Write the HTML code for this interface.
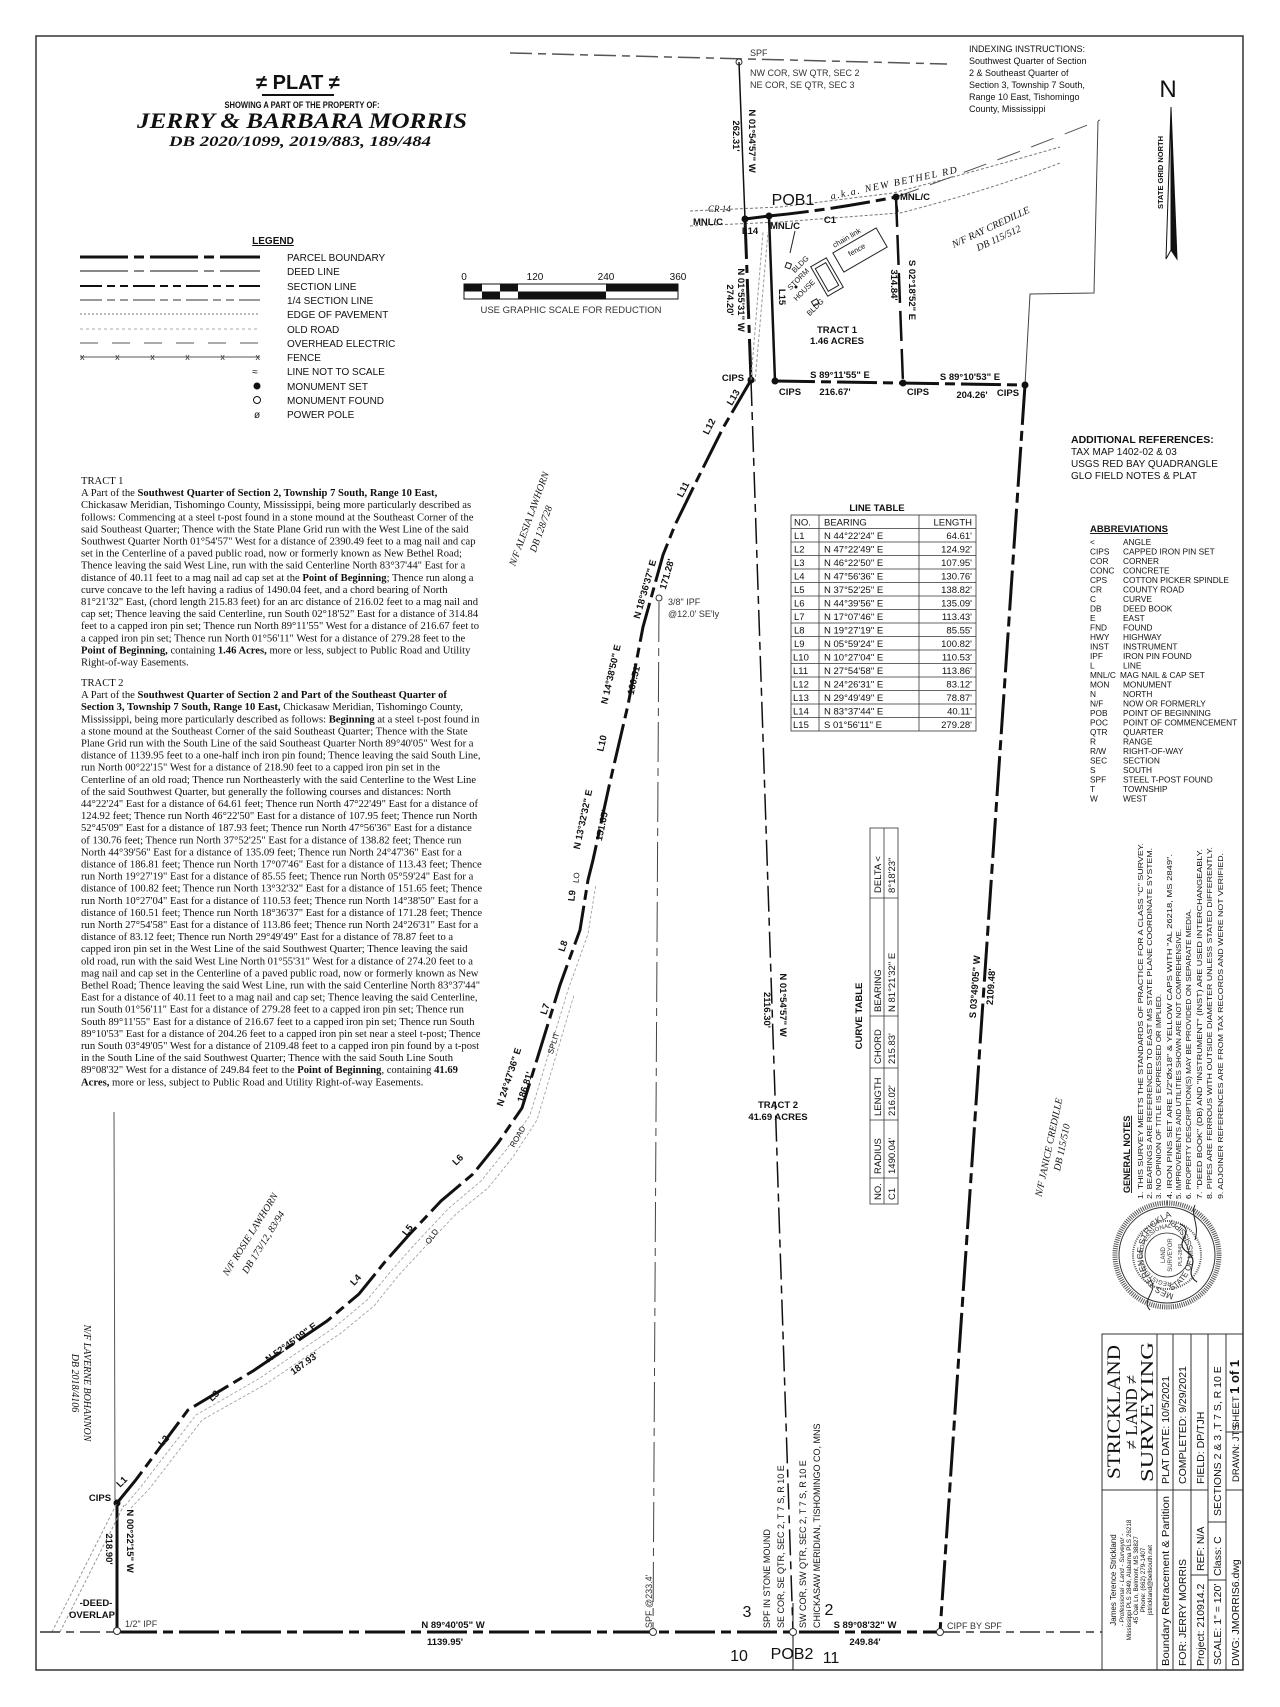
<!DOCTYPE html>
<html><head><meta charset="utf-8"><style>
html,body{margin:0;padding:0;background:#fff;width:1280px;height:1707px;overflow:hidden;}
svg{display:block;}
text{font-family:"Liberation Sans",sans-serif;fill:#111;}
.s text{font-family:"Liberation Serif",serif;font-size:10.6px;}
.b{font-weight:bold;}
.cad{font-size:9.5px;}
text.it{font-family:"Liberation Serif",serif;font-style:italic;}
text.serif{font-family:"Liberation Serif",serif;}
</style></head><body>
<svg width="1280" height="1707" viewBox="0 0 1280 1707" xmlns="http://www.w3.org/2000/svg">
<rect x="0" y="0" width="1280" height="1707" fill="#fff"/>
<rect x="36" y="36" width="1207" height="1634" fill="none" stroke="#333" stroke-width="1.5"/>

<!-- Title -->
<text x="298" y="89" text-anchor="middle" font-size="20" font-weight="bold">≠ PLAT ≠</text>
<line x1="262" y1="95" x2="334" y2="95" stroke="#111" stroke-width="2"/>
<text x="302" y="108" text-anchor="middle" font-size="9" font-weight="bold" textLength="155" lengthAdjust="spacingAndGlyphs">SHOWING A PART OF THE PROPERTY OF:</text>
<text x="302" y="128" text-anchor="middle" class="it b" font-size="22" textLength="330" lengthAdjust="spacingAndGlyphs">JERRY &amp; BARBARA MORRIS</text>
<text x="300" y="146" text-anchor="middle" class="it b" font-size="15" textLength="262" lengthAdjust="spacingAndGlyphs">DB 2020/1099, 2019/883, 189/484</text>

<!-- Legend -->
<text x="273" y="244" text-anchor="middle" font-size="10" font-weight="bold" text-decoration="underline">LEGEND</text>
<g stroke="#111" fill="none">
<line x1="80" y1="257" x2="260" y2="257" stroke-width="3" stroke-dasharray="48 6 10 6"/>
<line x1="80" y1="271" x2="260" y2="271" stroke="#888" stroke-width="2" stroke-dasharray="48 6 10 6"/>
<line x1="80" y1="286" x2="260" y2="286" stroke-width="2" stroke-dasharray="22 5 8 5 8 5"/>
<line x1="80" y1="300" x2="260" y2="300" stroke="#999" stroke-width="2" stroke-dasharray="22 5 8 5 8 5"/>
<line x1="80" y1="314" x2="260" y2="314" stroke="#777" stroke-width="1" stroke-dasharray="2 2"/>
<line x1="80" y1="329" x2="260" y2="329" stroke="#aaa" stroke-width="1" stroke-dasharray="3 3"/>
<line x1="80" y1="343" x2="260" y2="343" stroke="#555" stroke-width="1" stroke-dasharray="18 14"/>
<line x1="80" y1="357" x2="260" y2="357" stroke="#555" stroke-width="1"/>
</g>
<text x="170" y="360" text-anchor="middle" font-size="9" textLength="180" lengthAdjust="spacing" style="fill:#333">x x x x x x</text>
<text x="255" y="375" text-anchor="middle" font-size="10">≈</text>
<circle cx="257" cy="386" r="3.5" fill="#111"/>
<circle cx="257" cy="400" r="3.5" fill="none" stroke="#111"/>
<text x="257" y="418" text-anchor="middle" font-size="10">ø</text>
<g font-size="10" style="fill:#222">
<text x="287" y="261">PARCEL BOUNDARY</text><text x="287" y="275">DEED LINE</text><text x="287" y="290">SECTION LINE</text><text x="287" y="304">1/4 SECTION LINE</text><text x="287" y="318">EDGE OF PAVEMENT</text><text x="287" y="333">OLD ROAD</text><text x="287" y="347">OVERHEAD ELECTRIC</text><text x="287" y="361">FENCE</text><text x="287" y="375">LINE NOT TO SCALE</text><text x="287" y="390">MONUMENT SET</text><text x="287" y="404">MONUMENT FOUND</text><text x="287" y="418">POWER POLE</text>
</g>

<!-- Scale bar -->
<g font-size="10" text-anchor="middle"><text x="464" y="280">0</text><text x="535" y="280">120</text><text x="606" y="280">240</text><text x="678" y="280">360</text></g>
<rect x="464" y="284" width="214" height="15" fill="#fff" stroke="#111"/>
<g fill="#111">
<rect x="464" y="284" width="18" height="7.5"/><rect x="500" y="284" width="18" height="7.5"/>
<rect x="482" y="291.5" width="18" height="7.5"/><rect x="518" y="291.5" width="17" height="7.5"/>
<rect x="535" y="291.5" width="71" height="7.5"/><rect x="606" y="284" width="72" height="7.5"/>
</g>
<text x="571" y="313" text-anchor="middle" font-size="9.5" style="fill:#333">USE GRAPHIC SCALE FOR REDUCTION</text>

<!-- Indexing -->
<g font-size="9" style="fill:#222"><text x="969" y="52">INDEXING INSTRUCTIONS:</text><text x="969" y="64">Southwest Quarter of Section</text><text x="969" y="76">2 &amp; Southeast Quarter of</text><text x="969" y="88">Section 3, Township 7 South,</text><text x="969" y="100">Range 10 East, Tishomingo</text><text x="969" y="112">County, Mississippi</text></g>

<!-- North arrow -->
<text x="1168" y="97" text-anchor="middle" font-size="24">N</text>
<polygon points="1171,107 1166,259 1171,250" fill="#fff" stroke="#111"/>
<polygon points="1171,107 1177,259 1171,250" fill="#111" stroke="#111"/>
<text transform="translate(1163,209) rotate(-90)" font-size="7.5" font-weight="bold">STATE GRID NORTH</text>

<!-- Top section line -->
<line x1="510" y1="53" x2="947" y2="64" stroke="#555" stroke-width="1.5" stroke-dasharray="22 6 8 6"/>
<circle cx="739" cy="62" r="3" fill="#fff" stroke="#333"/>
<text x="750" y="56" font-size="9" style="fill:#333">SPF</text>
<text x="750" y="76" font-size="9" style="fill:#333">NW COR, SW QTR, SEC 2</text>
<text x="750" y="88" font-size="9" style="fill:#333">NE COR, SE QTR, SEC 3</text>

<!-- West section line -->
<line x1="739" y1="62" x2="745" y2="219" stroke="#111" stroke-width="1.5"/>
<text transform="translate(749,141) rotate(90)" text-anchor="middle" class="cad b">N 01°54'57" W</text>
<text transform="translate(733,136) rotate(90)" text-anchor="middle" class="cad b">262.31'</text>

<!-- Road -->
<g fill="none" stroke="#777" stroke-width="1" stroke-dasharray="3 2">
<path d="M690,211 L780,207 L893,193 Q980,170 1060,147"/>
<path d="M690,226 L780,222 L900,213 Q990,190 1060,163"/>
</g>
<path d="M896,197 Q1000,160 1100,120" fill="none" stroke="#555" stroke-width="1" stroke-dasharray="24 12"/>

<!-- Tract 1 -->
<g stroke="#111" fill="none">
<line x1="745" y1="219" x2="751" y2="380" stroke-width="3" stroke-dasharray="40 6 8 6"/>
<line x1="745" y1="219" x2="769" y2="216" stroke-width="3"/>
<path d="M769,216 Q830,210 896,197" stroke-width="3" stroke-dasharray="40 6 10 6"/>
<line x1="769" y1="216" x2="775" y2="381" stroke-width="2.5"/>
<line x1="896" y1="197" x2="903" y2="383" stroke-width="2.5" stroke-dasharray="30 8"/>
<line x1="775" y1="381" x2="1025" y2="385" stroke-width="3" stroke-dasharray="40 6 10 6"/>
<polyline points="1098,121 1094,293 1030,294 1025,385" stroke-width="1" stroke="#444"/>
<line x1="896" y1="197" x2="898" y2="212" stroke-width="1"/>
</g>
<g fill="#111"><circle cx="745" cy="219" r="3.5"/><circle cx="769" cy="216" r="3.5"/><circle cx="896" cy="197" r="3.5"/><circle cx="751" cy="380" r="3.5"/><circle cx="775" cy="381" r="3.5"/><circle cx="903" cy="383" r="3.5"/><circle cx="1025" cy="385" r="3.5"/></g>
<g fill="none" stroke="#999" stroke-dasharray="3 2"><path d="M751,380 L763,232"/><path d="M755,382 L768,232"/></g>
<!-- buildings -->
<g fill="none" stroke="#222" stroke-width="1">
<rect x="-25" y="-11" width="50" height="22" transform="translate(860,250) rotate(-30)"/>
<rect x="-17" y="-9" width="34" height="18" transform="translate(827,277) rotate(60)"/>
<rect x="-13" y="-6" width="26" height="12" transform="translate(827,277) rotate(60)"/>
<rect x="786" y="263" width="5" height="5" transform="rotate(20 788 265)"/>
<rect x="812" y="300" width="6" height="5" transform="rotate(-30 815 302)"/>
<line x1="790" y1="253" x2="795" y2="231"/>
</g>
<circle cx="796" cy="287" r="1.5" fill="#111"/>
<g font-size="7.5" style="fill:#222">
<text transform="translate(802,266) rotate(-45)" text-anchor="middle">BLDG</text>
<text transform="translate(800,281) rotate(-45)" text-anchor="middle">STORM</text>
<text transform="translate(806,292) rotate(-45)" text-anchor="middle">HOUSE</text>
<text transform="translate(817,309) rotate(-45)" text-anchor="middle">BLDG</text>
<text transform="translate(848,240) rotate(-30)" text-anchor="middle">chain link</text>
<text transform="translate(858,252) rotate(-30)" text-anchor="middle">fence</text>
</g>
<text x="793" y="205" text-anchor="middle" font-size="16">POB1</text>
<text transform="translate(895,186) rotate(-12)" text-anchor="middle" class="it" font-size="10" letter-spacing="1.5">a.k.a. NEW BETHEL RD</text>
<text x="708" y="212" class="it" font-size="9">CR 14</text>
<text x="708" y="225" text-anchor="middle" class="cad b">MNL/C</text>
<text x="750" y="234" text-anchor="middle" class="cad b">L14</text>
<text x="785" y="229" text-anchor="middle" class="cad b">MNL/C</text>
<text x="830" y="223" text-anchor="middle" class="cad b">C1</text>
<text x="915" y="200" text-anchor="middle" class="cad b">MNL/C</text>
<text transform="translate(992,230) rotate(-25)" text-anchor="middle" class="it" font-size="10">N/F RAY CREDILLE</text>
<text transform="translate(1000,241) rotate(-25)" text-anchor="middle" class="it" font-size="10">DB 115/512</text>
<text transform="translate(738,300) rotate(90)" text-anchor="middle" class="cad b">N 01°55'31" W</text>
<text transform="translate(727,300) rotate(90)" text-anchor="middle" class="cad b">274.20'</text>
<text transform="translate(909,290) rotate(90)" text-anchor="middle" class="cad b">S 02°18'52" E</text>
<text transform="translate(891,285) rotate(90)" text-anchor="middle" class="cad b">314.84'</text>
<text transform="translate(779,297) rotate(90)" text-anchor="middle" class="cad b">L15</text>
<text x="837" y="333" text-anchor="middle" class="cad b">TRACT 1</text>
<text x="837" y="344" text-anchor="middle" class="cad b">1.46 ACRES</text>
<text x="840" y="378" text-anchor="middle" class="cad b">S 89°11'55" E</text>
<text x="835" y="395" text-anchor="middle" class="cad b">216.67'</text>
<text x="733" y="381" text-anchor="middle" class="cad b">CIPS</text>
<text x="790" y="395" text-anchor="middle" class="cad b">CIPS</text>
<text x="918" y="395" text-anchor="middle" class="cad b">CIPS</text>
<text x="1008" y="396" text-anchor="middle" class="cad b">CIPS</text>
<text x="970" y="380" text-anchor="middle" class="cad b">S 89°10'53" E</text>
<text x="972" y="398" text-anchor="middle" class="cad b">204.26'</text>

<!-- Tract 2 middle line -->
<line x1="751" y1="380" x2="793" y2="1632" stroke="#111" stroke-width="1.5" stroke-dasharray="26 6 8 6"/>
<line x1="793" y1="1603" x2="793" y2="1670" stroke="#111" stroke-width="1"/>
<text transform="translate(780,1005) rotate(90)" text-anchor="middle" class="cad b">N 01°54'57" W</text>
<text transform="translate(764,1010) rotate(90)" text-anchor="middle" class="cad b">2116.30'</text>
<text x="778" y="1108" text-anchor="middle" class="cad b">TRACT 2</text>
<text x="778" y="1120" text-anchor="middle" class="cad b">41.69 ACRES</text>

<!-- 3/8 IPF and SPF line -->
<line x1="659" y1="602" x2="653" y2="1632" stroke="#444" stroke-width="1" stroke-dasharray="40 6 8 6"/>
<circle cx="659" cy="598" r="3" fill="#fff" stroke="#333"/>
<text x="668" y="605" font-size="9" style="fill:#333">3/8" IPF</text>
<text x="668" y="617" font-size="9" style="fill:#333">@12.0' SE'ly</text>

<!-- East boundary -->
<line x1="1025" y1="385" x2="940" y2="1632" stroke="#111" stroke-width="3" stroke-dasharray="40 6 10 6"/>
<text transform="translate(978,987) rotate(-86)" text-anchor="middle" class="cad b">S 03°49'05" W</text>
<text transform="translate(994,987) rotate(-86)" text-anchor="middle" class="cad b">2109.48'</text>
<text transform="translate(1052,1148) rotate(-78)" text-anchor="middle" class="it" font-size="10">N/F JANICE CREDILLE</text>
<text transform="translate(1065,1148) rotate(-78)" text-anchor="middle" class="it" font-size="10">DB 115/510</text>

<!-- Old road boundary -->
<polyline fill="none" stroke="#111" stroke-width="3" stroke-dasharray="40 6 10 6" points="117,1503 135,1481 188,1410 253,1371 327,1321 359,1294 384,1263 408,1236 441,1201 473,1174 498,1143 522,1108 560,985 580,930 588,880 593,860 610,782 628,705 643,627 663,555 675,525 695,484 723,428 751,380"/>
<polyline fill="none" stroke="#999" stroke-width="0.8" stroke-dasharray="3 2" points="125,1506 143,1484 196,1415 260,1378 335,1327 367,1300 392,1270 416,1243 449,1208 481,1181 506,1150 530,1115 568,990 588,934 596,884"/>
<polyline fill="none" stroke="#999" stroke-width="0.8" stroke-dasharray="3 2" points="131,1508 150,1488 202,1420 266,1384 341,1333 374,1306 398,1276 423,1249 456,1214 488,1188 513,1157 537,1120 574,995"/>
<g class="cad b">
<text transform="translate(736,399) rotate(-60)" text-anchor="middle">L13</text>
<text transform="translate(712,428) rotate(-63)" text-anchor="middle">L12</text>
<text transform="translate(686,491) rotate(-63)" text-anchor="middle">L11</text>
<text transform="translate(648,590) rotate(-74)" text-anchor="middle">N 18°36'37" E</text>
<text transform="translate(670,575) rotate(-74)" text-anchor="middle">171.28'</text>
<text transform="translate(614,675) rotate(-77)" text-anchor="middle">N 14°38'50" E</text>
<text transform="translate(637,680) rotate(-77)" text-anchor="middle">160.51'</text>
<text transform="translate(605,744) rotate(-77)" text-anchor="middle">L10</text>
<text transform="translate(586,820) rotate(-78)" text-anchor="middle">N 13°32'32" E</text>
<text transform="translate(605,826) rotate(-78)" text-anchor="middle">151.65'</text>
<text transform="translate(575,896) rotate(-84)" text-anchor="middle">L9</text>
<text transform="translate(566,947) rotate(-72)" text-anchor="middle">L8</text>
<text transform="translate(548,1010) rotate(-72)" text-anchor="middle">L7</text>
<text transform="translate(512,1078) rotate(-72)" text-anchor="middle">N 24°47'36" E</text>
<text transform="translate(528,1088) rotate(-72)" text-anchor="middle">186.81'</text>
<text transform="translate(460,1162) rotate(-45)" text-anchor="middle">L6</text>
<text transform="translate(410,1232) rotate(-52)" text-anchor="middle">L5</text>
<text transform="translate(358,1282) rotate(-48)" text-anchor="middle">L4</text>
<text transform="translate(293,1345) rotate(-36)" text-anchor="middle">N 52°45'09" E</text>
<text transform="translate(306,1366) rotate(-36)" text-anchor="middle">187.93'</text>
<text transform="translate(216,1398) rotate(-45)" text-anchor="middle">L3</text>
<text transform="translate(166,1443) rotate(-48)" text-anchor="middle">L2</text>
<text transform="translate(124,1484) rotate(-45)" text-anchor="middle">L1</text>
</g>
<g font-size="8" style="fill:#777">
<text transform="translate(556,1044) rotate(-72)" text-anchor="middle">SPLIT</text>
<text transform="translate(520,1138) rotate(-60)" text-anchor="middle">ROAD</text>
<text transform="translate(434,1238) rotate(-55)" text-anchor="middle">OLD</text>
<text transform="translate(579,878) rotate(-84)" text-anchor="middle">LO</text>
</g>
<text transform="translate(532,520) rotate(-70)" text-anchor="middle" class="it" font-size="10">N/F ALESIA LAWHORN</text>
<text transform="translate(544,530) rotate(-70)" text-anchor="middle" class="it" font-size="10">DB 128/728</text>
<text transform="translate(253,1236) rotate(-58)" text-anchor="middle" class="it" font-size="10">N/F ROSIE LAWHORN</text>
<text transform="translate(266,1244) rotate(-58)" text-anchor="middle" class="it" font-size="10">DB 173/12, 83/94</text>

<!-- lower left -->
<line x1="114" y1="1112" x2="115" y2="1500" stroke="#555" stroke-width="1"/>
<text transform="translate(84,1383) rotate(90)" text-anchor="middle" class="it" font-size="10">N/F LAVERNE BOHANNON</text>
<text transform="translate(72,1383) rotate(90)" text-anchor="middle" class="it" font-size="10">DB 2018/4106</text>
<line x1="117" y1="1503" x2="117" y2="1631" stroke="#111" stroke-width="3"/>
<circle cx="117" cy="1503" r="3.5" fill="#111"/>
<text x="100" y="1501" text-anchor="middle" class="cad b">CIPS</text>
<text transform="translate(127,1541) rotate(90)" text-anchor="middle" class="cad b">N 00°22'15" W</text>
<text transform="translate(106,1549) rotate(90)" text-anchor="middle" class="cad b">218.90'</text>
<g fill="none" stroke="#999" stroke-dasharray="3 2"><path d="M52,1632 L117,1503"/><path d="M60,1632 L124,1505"/></g>
<text x="96" y="1606" text-anchor="middle" class="cad b">-DEED-</text>
<text x="92" y="1618" text-anchor="middle" class="cad b">OVERLAP</text>

<!-- bottom section line -->
<line x1="40" y1="1632" x2="117" y2="1632" stroke="#333" stroke-width="1.5" stroke-dasharray="20 6 8 6"/>
<line x1="117" y1="1632" x2="940" y2="1632" stroke="#111" stroke-width="3" stroke-dasharray="40 6 10 6"/>
<line x1="940" y1="1632" x2="1102" y2="1632" stroke="#333" stroke-width="1.5" stroke-dasharray="20 6 8 6"/>
<circle cx="117" cy="1631" r="3.5" fill="#fff" stroke="#333"/>
<circle cx="653" cy="1632" r="3.5" fill="#fff" stroke="#333"/>
<circle cx="793" cy="1632" r="3.5" fill="#fff" stroke="#333"/>
<circle cx="940" cy="1632" r="3.5" fill="#fff" stroke="#333"/>
<text x="125" y="1627" font-size="9" style="fill:#333">1/2" IPF</text>
<text x="453" y="1628" text-anchor="middle" class="cad b">N 89°40'05" W</text>
<text x="445" y="1645" text-anchor="middle" class="cad b">1139.95'</text>
<text transform="translate(652,1628) rotate(-90)" font-size="9" style="fill:#333">SPF @233.4'</text>
<text x="865" y="1628" text-anchor="middle" class="cad b">S 89°08'32" W</text>
<text x="865" y="1645" text-anchor="middle" class="cad b">249.84'</text>
<text x="947" y="1629" font-size="9" style="fill:#333">CIPF BY SPF</text>
<g font-size="16" style="fill:#666"><text x="747" y="1617" text-anchor="middle">3</text><text x="829" y="1615" text-anchor="middle">2</text><text x="739" y="1661" text-anchor="middle">10</text><text x="831" y="1663" text-anchor="middle">11</text></g>
<text x="792" y="1659" text-anchor="middle" font-size="16">POB2</text>
<g font-size="9" style="fill:#333">
<text transform="translate(770,1628) rotate(-90)">SPF IN STONE MOUND</text>
<text transform="translate(784,1628) rotate(-90)">SE COR, SE QTR, SEC 2, T 7 S, R 10 E</text>
<text transform="translate(806,1628) rotate(-90)">SW COR, SW QTR, SEC 2, T 7 S, R 10 E</text>
<text transform="translate(820,1628) rotate(-90)">CHICKASAW MERIDIAN, TISHOMINGO CO, MNS</text>
</g>

<!-- Line table -->
<text x="877" y="511" text-anchor="middle" font-size="9.5" font-weight="bold">LINE TABLE</text>
<g stroke="#333" fill="none" stroke-width="0.8">
<rect x="791" y="515" width="185" height="216"/>
<line x1="819" y1="515" x2="819" y2="731"/><line x1="919" y1="515" x2="919" y2="731"/>
<line x1="791" y1="528.5" x2="976" y2="528.5"/><line x1="791" y1="542" x2="976" y2="542"/><line x1="791" y1="555.5" x2="976" y2="555.5"/><line x1="791" y1="569" x2="976" y2="569"/><line x1="791" y1="582.5" x2="976" y2="582.5"/><line x1="791" y1="596" x2="976" y2="596"/><line x1="791" y1="609.5" x2="976" y2="609.5"/><line x1="791" y1="623" x2="976" y2="623"/><line x1="791" y1="636.5" x2="976" y2="636.5"/><line x1="791" y1="650" x2="976" y2="650"/><line x1="791" y1="663.5" x2="976" y2="663.5"/><line x1="791" y1="677" x2="976" y2="677"/><line x1="791" y1="690.5" x2="976" y2="690.5"/><line x1="791" y1="704" x2="976" y2="704"/><line x1="791" y1="717.5" x2="976" y2="717.5"/>
</g>
<g font-size="9.5" style="fill:#222">
<text x="794" y="525.5">NO.</text><text x="824" y="525.5">BEARING</text><text x="972" y="525.5" text-anchor="end">LENGTH</text>
<text x="794" y="539">L1</text><text x="824" y="539">N 44°22'24"  E</text><text x="972" y="539" text-anchor="end">64.61'</text>
<text x="794" y="552.5">L2</text><text x="824" y="552.5">N 47°22'49"  E</text><text x="972" y="552.5" text-anchor="end">124.92'</text>
<text x="794" y="566">L3</text><text x="824" y="566">N 46°22'50"  E</text><text x="972" y="566" text-anchor="end">107.95'</text>
<text x="794" y="579.5">L4</text><text x="824" y="579.5">N 47°56'36"  E</text><text x="972" y="579.5" text-anchor="end">130.76'</text>
<text x="794" y="593">L5</text><text x="824" y="593">N 37°52'25"  E</text><text x="972" y="593" text-anchor="end">138.82'</text>
<text x="794" y="606.5">L6</text><text x="824" y="606.5">N 44°39'56"  E</text><text x="972" y="606.5" text-anchor="end">135.09'</text>
<text x="794" y="620">L7</text><text x="824" y="620">N 17°07'46"  E</text><text x="972" y="620" text-anchor="end">113.43'</text>
<text x="794" y="633.5">L8</text><text x="824" y="633.5">N 19°27'19"  E</text><text x="972" y="633.5" text-anchor="end">85.55'</text>
<text x="794" y="647">L9</text><text x="824" y="647">N 05°59'24"  E</text><text x="972" y="647" text-anchor="end">100.82'</text>
<text x="793" y="660.5">L10</text><text x="824" y="660.5">N 10°27'04"  E</text><text x="972" y="660.5" text-anchor="end">110.53'</text>
<text x="793" y="674">L11</text><text x="824" y="674">N 27°54'58"  E</text><text x="972" y="674" text-anchor="end">113.86'</text>
<text x="793" y="687.5">L12</text><text x="824" y="687.5">N 24°26'31"  E</text><text x="972" y="687.5" text-anchor="end">83.12'</text>
<text x="793" y="701">L13</text><text x="824" y="701">N 29°49'49"  E</text><text x="972" y="701" text-anchor="end">78.87'</text>
<text x="793" y="714.5">L14</text><text x="824" y="714.5">N 83°37'44"  E</text><text x="972" y="714.5" text-anchor="end">40.11'</text>
<text x="793" y="728">L15</text><text x="824" y="728">S 01°56'11"  E</text><text x="972" y="728" text-anchor="end">279.28'</text>
</g>

<!-- Curve table (rotated) -->
<text transform="translate(862,1016) rotate(-90)" text-anchor="middle" font-size="9.5" font-weight="bold">CURVE TABLE</text>
<g stroke="#333" fill="none" stroke-width="0.8">
<rect x="870" y="828" width="28" height="376"/>
<line x1="884" y1="828" x2="884" y2="1204"/>
<line x1="870" y1="1178" x2="898" y2="1178"/><line x1="870" y1="1120" x2="898" y2="1120"/><line x1="870" y1="1068" x2="898" y2="1068"/><line x1="870" y1="1016" x2="898" y2="1016"/><line x1="870" y1="898" x2="898" y2="898"/>
</g>
<g font-size="9.5" style="fill:#222">
<text transform="translate(881,1200) rotate(-90)">NO.</text><text transform="translate(881,1174) rotate(-90)">RADIUS</text><text transform="translate(881,1116) rotate(-90)">LENGTH</text><text transform="translate(881,1064) rotate(-90)">CHORD</text><text transform="translate(881,1012) rotate(-90)">BEARING</text><text transform="translate(881,893) rotate(-90)">DELTA  &lt;</text>
<text transform="translate(895,1200) rotate(-90)">C1</text><text transform="translate(895,1174) rotate(-90)">1490.04'</text><text transform="translate(895,1116) rotate(-90)">216.02'</text><text transform="translate(895,1064) rotate(-90)">215.83'</text><text transform="translate(895,1012) rotate(-90)">N 81°21'32" E</text><text transform="translate(895,893) rotate(-90)">8°18'23"</text>
</g>

<!-- Additional refs -->
<text x="1071" y="443" font-size="10.5" font-weight="bold">ADDITIONAL REFERENCES:</text>
<g font-size="10" style="fill:#222"><text x="1071" y="455">TAX MAP 1402-02 &amp; 03</text><text x="1071" y="467">USGS RED BAY QUADRANGLE</text><text x="1071" y="479">GLO FIELD NOTES &amp; PLAT</text></g>

<!-- Abbreviations -->
<text x="1090" y="532" font-size="9.5" font-weight="bold" text-decoration="underline">ABBREVIATIONS</text>
<g font-size="8.3" style="fill:#222">
<text x="1090" y="545">&lt;</text><text x="1123" y="545">ANGLE</text>
<text x="1090" y="554.5">CIPS</text><text x="1123" y="554.5">CAPPED IRON PIN SET</text>
<text x="1090" y="564">COR</text><text x="1123" y="564">CORNER</text>
<text x="1090" y="573.5">CONC</text><text x="1123" y="573.5">CONCRETE</text>
<text x="1090" y="583">CPS</text><text x="1123" y="583">COTTON PICKER SPINDLE</text>
<text x="1090" y="592.5">CR</text><text x="1123" y="592.5">COUNTY ROAD</text>
<text x="1090" y="602">C</text><text x="1123" y="602">CURVE</text>
<text x="1090" y="611.5">DB</text><text x="1123" y="611.5">DEED BOOK</text>
<text x="1090" y="621">E</text><text x="1123" y="621">EAST</text>
<text x="1090" y="630.5">FND</text><text x="1123" y="630.5">FOUND</text>
<text x="1090" y="640">HWY</text><text x="1123" y="640">HIGHWAY</text>
<text x="1090" y="649.5">INST</text><text x="1123" y="649.5">INSTRUMENT</text>
<text x="1090" y="659">IPF</text><text x="1123" y="659">IRON PIN FOUND</text>
<text x="1090" y="668.5">L</text><text x="1123" y="668.5">LINE</text>
<text x="1090" y="678">MNL/C</text><text x="1120" y="678">MAG NAIL &amp; CAP SET</text>
<text x="1090" y="687.5">MON</text><text x="1123" y="687.5">MONUMENT</text>
<text x="1090" y="697">N</text><text x="1123" y="697">NORTH</text>
<text x="1090" y="706.5">N/F</text><text x="1123" y="706.5">NOW OR FORMERLY</text>
<text x="1090" y="716">POB</text><text x="1123" y="716">POINT OF BEGINNING</text>
<text x="1090" y="725.5">POC</text><text x="1123" y="725.5">POINT OF COMMENCEMENT</text>
<text x="1090" y="735">QTR</text><text x="1123" y="735">QUARTER</text>
<text x="1090" y="744.5">R</text><text x="1123" y="744.5">RANGE</text>
<text x="1090" y="754">R/W</text><text x="1123" y="754">RIGHT-OF-WAY</text>
<text x="1090" y="763.5">SEC</text><text x="1123" y="763.5">SECTION</text>
<text x="1090" y="773">S</text><text x="1123" y="773">SOUTH</text>
<text x="1090" y="782.5">SPF</text><text x="1123" y="782.5">STEEL T-POST FOUND</text>
<text x="1090" y="792">T</text><text x="1123" y="792">TOWNSHIP</text>
<text x="1090" y="801.5">W</text><text x="1123" y="801.5">WEST</text>
</g>

<!-- General notes -->
<text transform="translate(1130,1193) rotate(-90)" font-size="9" font-weight="bold" text-decoration="underline">GENERAL NOTES</text>
<g font-size="7.6" style="fill:#222">
<text transform="translate(1143,1199) rotate(-90)" textLength="356" lengthAdjust="spacingAndGlyphs">1.  THIS SURVEY MEETS THE STANDARDS OF PRACTICE FOR A CLASS "C" SURVEY.</text>
<text transform="translate(1152,1199) rotate(-90)" textLength="351" lengthAdjust="spacingAndGlyphs">2.  BEARINGS ARE REFERENCED TO EAST MS STATE PLANE COORDINATE SYSTEM.</text>
<text transform="translate(1161,1199) rotate(-90)" textLength="205" lengthAdjust="spacingAndGlyphs">3.  NO OPINION OF TITLE IS EXPRESSED OR IMPLIED.</text>
<text transform="translate(1172,1199) rotate(-90)" textLength="345" lengthAdjust="spacingAndGlyphs">4.  IRON PINS SET ARE 1/2"Øx18" &amp; YELLOW CAPS WITH "AL 26218, MS 2849".</text>
<text transform="translate(1181,1199) rotate(-90)" textLength="270" lengthAdjust="spacingAndGlyphs">5.  IMPROVEMENTS AND UTILITIES SHOWN ARE NOT COMPREHENSIVE.</text>
<text transform="translate(1191,1199) rotate(-90)" textLength="290" lengthAdjust="spacingAndGlyphs">6.  PROPERTY DESCRIPTION(S) MAY BE PROVIDED ON SEPARATE MEDIA.</text>
<text transform="translate(1202,1199) rotate(-90)" textLength="350" lengthAdjust="spacingAndGlyphs">7.  "DEED BOOK" (DB) AND "INSTRUMENT" (INST) ARE USED INTERCHANGEABLY.</text>
<text transform="translate(1212,1199) rotate(-90)" textLength="352" lengthAdjust="spacingAndGlyphs">8.  PIPES ARE FERROUS WITH OUTSIDE DIAMETER UNLESS STATED DIFFERENTLY.</text>
<text transform="translate(1223,1199) rotate(-90)" textLength="346" lengthAdjust="spacingAndGlyphs">9.  ADJOINER REFERENCES ARE FROM TAX RECORDS AND WERE NOT VERIFIED.</text>
</g>

<!-- Seal -->
<g transform="rotate(-90 1167 1255)">
<circle cx="1167" cy="1255" r="52" fill="none" stroke="#555" stroke-width="5" stroke-dasharray="1 1.2"/>
<circle cx="1167" cy="1255" r="48" fill="none" stroke="#333" stroke-width="1"/>
<circle cx="1167" cy="1255" r="34" fill="none" stroke="#555" stroke-width="2" stroke-dasharray="1 1.2"/>
<circle cx="1167" cy="1255" r="22" fill="none" stroke="#333" stroke-width="0.8"/>
<path id="sealArc" d="M1128,1262 A40,40 0 0,1 1206,1262" fill="none"/>
<text font-size="8.5" style="fill:#333"><textPath href="#sealArc" startOffset="50%" text-anchor="middle">JAMES TERENCE STRICKLAND</textPath></text>
<path id="sealArc2" d="M1140,1258 A27,27 0 0,1 1194,1258" fill="none"/>
<text font-size="6" style="fill:#333"><textPath href="#sealArc2" startOffset="50%" text-anchor="middle">REGISTERED PROFESSIONAL</textPath></text>
<path id="sealArc3" d="M1128,1250 A40,40 0 0,0 1206,1250" fill="none"/>
<text font-size="8" style="fill:#333"><textPath href="#sealArc3" startOffset="50%" text-anchor="middle">STATE OF MISSISSIPPI</textPath></text>
<text x="1167" y="1253" text-anchor="middle" font-size="6" style="fill:#333">LAND</text>
<text x="1167" y="1260" text-anchor="middle" font-size="6" style="fill:#333">SURVEYOR</text>
<text x="1167" y="1270" text-anchor="middle" font-size="5" style="fill:#333">PLS-2849</text>
<path d="M1140,1285 C1150,1270 1160,1290 1170,1275 S1190,1285 1198,1268" fill="none" stroke="#222" stroke-width="1.2"/>
</g>
<path d="M1150,1310 C1140,1300 1160,1290 1150,1280 M1195,1205 C1190,1215 1200,1225 1195,1240" fill="none" stroke="#222" stroke-width="1"/>

<!-- Title block -->
<g stroke="#333" fill="none" stroke-width="1">
<rect x="1102" y="1334" width="141" height="336"/>
<line x1="1157" y1="1334" x2="1157" y2="1670"/><line x1="1173" y1="1334" x2="1173" y2="1670"/><line x1="1191" y1="1334" x2="1191" y2="1670"/><line x1="1208" y1="1334" x2="1208" y2="1670"/><line x1="1226" y1="1334" x2="1226" y2="1670"/>
<line x1="1102" y1="1490" x2="1191" y2="1490"/><line x1="1191" y1="1490" x2="1208" y2="1490"/><line x1="1191" y1="1575" x2="1208" y2="1575"/>
<line x1="1208" y1="1522" x2="1226" y2="1522"/><line x1="1208" y1="1580" x2="1226" y2="1580"/>
<line x1="1226" y1="1432" x2="1243" y2="1432"/><line x1="1226" y1="1490" x2="1243" y2="1490"/>
</g>
<g style="fill:#222">
<text class="serif" transform="translate(1120,1412) rotate(-90)" text-anchor="middle" font-size="19" textLength="134" lengthAdjust="spacingAndGlyphs">STRICKLAND</text>
<text class="serif" transform="translate(1137,1412) rotate(-90)" text-anchor="middle" font-size="17">≠ LAND ≠</text>
<text class="serif" transform="translate(1153,1412) rotate(-90)" text-anchor="middle" font-size="18" textLength="140" lengthAdjust="spacingAndGlyphs">SURVEYING</text>
</g>
<g font-size="10.5" style="fill:#222">
<text transform="translate(1169,1484) rotate(-90)">PLAT DATE:  10/5/2021</text>
<text transform="translate(1186,1484) rotate(-90)">COMPLETED:  9/29/2021</text>
<text transform="translate(1204,1484) rotate(-90)">FIELD:    DP/TJH</text>
<text transform="translate(1221,1516) rotate(-90)">SECTIONS  2 &amp; 3 ,T  7  S, R 10 E</text>
<text transform="translate(1239,1482) rotate(-90)" font-size="9.5">DRAWN: JTS</text>
<text transform="translate(1239,1428) rotate(-90)" font-size="9.5">SHEET <tspan font-size="13" font-weight="bold">1 of 1</tspan></text>
<text transform="translate(1169,1666) rotate(-90)" font-size="10.5" textLength="170" lengthAdjust="spacingAndGlyphs">Boundary Retracement &amp; Partition</text>
<text transform="translate(1186,1666) rotate(-90)">FOR:  JERRY MORRIS</text>
<text transform="translate(1204,1666) rotate(-90)">Project: 210914.2</text>
<text transform="translate(1204,1571) rotate(-90)">REF: N/A</text>
<text transform="translate(1221,1665) rotate(-90)">SCALE: 1" = 120'</text>
<text transform="translate(1221,1576) rotate(-90)">Class: C</text>
<text transform="translate(1239,1666) rotate(-90)">DWG: JMORRIS6.dwg</text>
</g>
<g font-size="6.3" style="fill:#333" text-anchor="middle">
<text transform="translate(1116,1580) rotate(-90)" font-size="8">James Terence Strickland</text>
<text transform="translate(1124,1580) rotate(-90)" font-style="italic">- Professional - Land - Surveyor -</text>
<text transform="translate(1131,1580) rotate(-90)">Mississippi PLS 2849, Alabama PLS 26218</text>
<text transform="translate(1138,1580) rotate(-90)">45 Oak Ln, Belmont, MS 38827</text>
<text transform="translate(1145,1580) rotate(-90)">Phone: (662) 279-1407</text>
<text transform="translate(1152,1580) rotate(-90)">jstrickland@bellsouth.net</text>
</g>

<!-- Tract descriptions -->
<g class="s">
<text x="81" y="484">TRACT 1</text>
<text x="81" y="496.1">A Part of the <tspan class="b">Southwest Quarter of Section 2, Township 7 South, Range 10 East,</tspan></text>
<text x="81" y="508.2">Chickasaw Meridian, Tishomingo County, Mississippi, being more particularly described as</text>
<text x="81" y="520.3">follows: Commencing at a steel t-post found in a stone mound at the Southeast Corner of the</text>
<text x="81" y="532.4">said Southeast Quarter; Thence with the State Plane Grid run with the West Line of the said</text>
<text x="81" y="544.5">Southwest Quarter North 01°54'57" West for a distance of 2390.49 feet to a mag nail and cap</text>
<text x="81" y="556.6">set in the Centerline of a paved public road, now or formerly known as New Bethel Road;</text>
<text x="81" y="568.7">Thence leaving the said West Line, run with the said Centerline North 83°37'44" East for a</text>
<text x="81" y="580.8">distance of 40.11 feet to a mag nail ad cap set at the <tspan class="b">Point of Beginning</tspan>; Thence run along a</text>
<text x="81" y="592.9">curve concave to the left having a radius of 1490.04 feet, and a chord bearing of North</text>
<text x="81" y="605">81°21'32" East, (chord length 215.83 feet) for an arc distance of 216.02 feet to a mag nail and</text>
<text x="81" y="617.1">cap set; Thence leaving the said Centerline, run South 02°18'52" East for a distance of 314.84</text>
<text x="81" y="629.2">feet to a capped iron pin set; Thence run North 89°11'55" West for a distance of 216.67 feet to</text>
<text x="81" y="641.3">a capped iron pin set; Thence run North 01°56'11" West for a distance of 279.28 feet to the</text>
<text x="81" y="653.4"><tspan class="b">Point of Beginning,</tspan> containing <tspan class="b">1.46 Acres,</tspan> more or less, subject to Public Road and Utility</text>
<text x="81" y="665.5">Right-of-way Easements.</text>

<text x="81" y="686">TRACT 2</text>
<text x="81" y="698.1">A Part of the <tspan class="b">Southwest Quarter of Section 2 and Part of the Southeast Quarter of</tspan></text>
<text x="81" y="710.2"><tspan class="b">Section 3, Township 7 South, Range 10 East,</tspan> Chickasaw Meridian, Tishomingo County,</text>
<text x="81" y="722.3">Mississippi, being more particularly described as follows: <tspan class="b">Beginning</tspan> at a steel t-post found in</text>
<text x="81" y="734.4">a stone mound at the Southeast Corner of the said Southeast Quarter; Thence with the State</text>
<text x="81" y="746.5">Plane Grid run with the South Line of the said Southeast Quarter North 89°40'05" West for a</text>
<text x="81" y="758.6">distance of 1139.95 feet to a one-half inch iron pin found; Thence leaving the said South Line,</text>
<text x="81" y="770.7">run North 00°22'15" West for a distance of 218.90 feet to a capped iron pin set in the</text>
<text x="81" y="782.8">Centerline of an old road; Thence run Northeasterly with the said Centerline to the West Line</text>
<text x="81" y="794.9">of the said Southwest Quarter, but generally the following courses and distances: North</text>
<text x="81" y="807">44°22'24" East for a distance of 64.61 feet; Thence run North 47°22'49" East for a distance of</text>
<text x="81" y="819.1">124.92 feet; Thence run North 46°22'50" East for a distance of 107.95 feet; Thence run North</text>
<text x="81" y="831.2">52°45'09" East for a distance of 187.93 feet; Thence run North 47°56'36" East for a distance</text>
<text x="81" y="843.3">of 130.76 feet; Thence run North 37°52'25" East for a distance of 138.82 feet; Thence run</text>
<text x="81" y="855.4">North 44°39'56" East for a distance of 135.09 feet; Thence run North 24°47'36" East for a</text>
<text x="81" y="867.5">distance of 186.81 feet; Thence run North 17°07'46" East for a distance of 113.43 feet; Thence</text>
<text x="81" y="879.6">run North 19°27'19" East for a distance of 85.55 feet; Thence run North 05°59'24" East for a</text>
<text x="81" y="891.7">distance of 100.82 feet; Thence run North 13°32'32" East for a distance of 151.65 feet; Thence</text>
<text x="81" y="903.8">run North 10°27'04" East for a distance of 110.53 feet; Thence run North 14°38'50" East for a</text>
<text x="81" y="915.9">distance of 160.51 feet; Thence run North 18°36'37" East for a distance of 171.28 feet; Thence</text>
<text x="81" y="928">run North 27°54'58" East for a distance of 113.86 feet; Thence run North 24°26'31" East for a</text>
<text x="81" y="940.1">distance of 83.12 feet; Thence run North 29°49'49" East for a distance of 78.87 feet to a</text>
<text x="81" y="952.2">capped iron pin set in the West Line of the said Southwest Quarter; Thence leaving the said</text>
<text x="81" y="964.3">old road, run with the said West Line North 01°55'31" West for a distance of 274.20 feet to a</text>
<text x="81" y="976.4">mag nail and cap set in the Centerline of a paved public road, now or formerly known as New</text>
<text x="81" y="988.5">Bethel Road; Thence leaving the said West Line, run with the said Centerline North 83°37'44"</text>
<text x="81" y="1000.6">East for a distance of 40.11 feet to a mag nail and cap set; Thence leaving the said Centerline,</text>
<text x="81" y="1012.7">run South 01°56'11" East for a distance of 279.28 feet to a capped iron pin set; Thence run</text>
<text x="81" y="1024.8">South 89°11'55" East for a distance of 216.67 feet to a capped iron pin set; Thence run South</text>
<text x="81" y="1036.9">89°10'53" East for a distance of 204.26 feet to a capped iron pin set near a steel t-post; Thence</text>
<text x="81" y="1049">run South 03°49'05" West for a distance of 2109.48 feet to a capped iron pin found by a t-post</text>
<text x="81" y="1061.1">in the South Line of the said Southwest Quarter; Thence with the said South Line South</text>
<text x="81" y="1073.2">89°08'32" West for a distance of 249.84 feet to the <tspan class="b">Point of Beginning</tspan>, containing <tspan class="b">41.69</tspan></text>
<text x="81" y="1085.3"><tspan class="b">Acres,</tspan> more or less, subject to Public Road and Utility Right-of-way Easements.</text>
</g>
</svg>
</body></html>
